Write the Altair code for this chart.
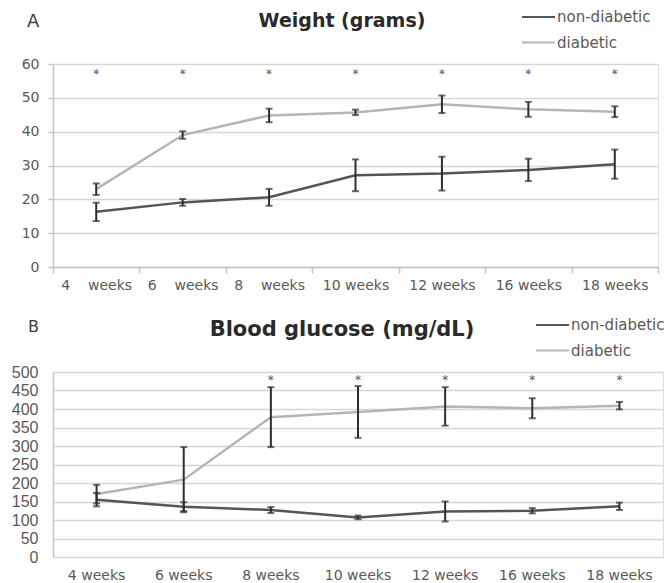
import altair as alt
import pandas as pd

# ---------------- data ----------------
weeks = ["4 weeks", "6 weeks", "8 weeks", "10 weeks", "12 weeks", "16 weeks", "18 weeks"]
series_names = ["non-diabetic", "diabetic"]

weight_nondiabetic = [16.3, 19.1, 20.6, 27.1, 27.6, 28.7, 30.4]
weight_nondiabetic_err = [2.7, 1.0, 2.5, 4.7, 5.0, 3.3, 4.3]
weight_diabetic = [23.0, 39.0, 44.8, 45.7, 48.1, 46.6, 45.9]
weight_diabetic_err = [1.7, 1.1, 2.0, 0.8, 2.6, 2.2, 1.6]
weight_ticks = [0, 10, 20, 30, 40, 50, 60]
weight_sig_weeks = ["4 weeks", "6 weeks", "8 weeks", "10 weeks", "12 weeks", "16 weeks", "18 weeks"]
weight_sig_level = 58

glucose_nondiabetic = [155, 136, 127, 107, 123, 125, 137]
glucose_nondiabetic_err = [18, 12, 8, 5, 27, 7, 10]
glucose_diabetic = [170, 209, 378, 392, 407, 402, 409]
glucose_diabetic_err = [25, 88, 81, 70, 52, 27, 10]
glucose_ticks = [0, 50, 100, 150, 200, 250, 300, 350, 400, 450, 500]
glucose_sig_weeks = ["8 weeks", "10 weeks", "12 weeks", "16 weeks", "18 weeks"]
glucose_sig_level = 487

title_a = "Weight (grams)"
title_b = "Blood glucose (mg/dL)"
letter_a = "A"
letter_b = "B"

# ---------------- styles ----------------
FONT = "DejaVu Sans"
TEXT = "#595959"
GRID = "#d6d6d6"
DOMAIN = "#c4c4c4"
ERR = "#2e2e2e"
series_colors = ["#555555", "#b5b5b5"]
color_of = dict(zip(series_names, series_colors))


def make_df(nd, nd_err, d, d_err):
    rows = []
    for name, vals, errs in (("diabetic", d, d_err), ("non-diabetic", nd, nd_err)):
        for i, (w, v, e) in enumerate(zip(weeks, vals, errs)):
            rows.append({"week": w, "idx": i, "series": name, "value": v,
                         "lo": v - e, "hi": v + e})
    return pd.DataFrame(rows)


def panel(df, sig_weeks, sig_level, ticks, width, height, title, letter,
          xaxis, yaxis, title_font, title_size, title_dx, title_dy,
          letter_dx, letter_dy, letter_size, legend_x, legend_y):
    xs = alt.Scale(type="band", paddingInner=0, paddingOuter=0)
    ys = alt.Scale(domain=[ticks[0], ticks[-1]], nice=False, zero=True)
    X = alt.X("week:N", sort=weeks, scale=xs, axis=xaxis)

    def Y(field):
        return alt.Y(field, scale=ys, axis=yaxis)

    base = alt.Chart(df)
    line = base.mark_line(strokeWidth=2.5).encode(
        x=X,
        y=Y("value:Q"),
        color=alt.Color("series:N", scale=alt.Scale(domain=series_names, range=series_colors), legend=None),
        order=alt.Order("idx:Q"),
    )
    rules = base.mark_rule(color=ERR, strokeWidth=2).encode(x=X, y=Y("lo:Q"), y2="hi:Q")
    cap_lo = base.mark_tick(color=ERR, thickness=2, size=7, orient="horizontal").encode(x=X, y=Y("lo:Q"))
    cap_hi = base.mark_tick(color=ERR, thickness=2, size=7, orient="horizontal").encode(x=X, y=Y("hi:Q"))
    stars_df = pd.DataFrame({"week": sig_weeks, "level": [sig_level] * len(sig_weeks),
                             "mark": ["*"] * len(sig_weeks)})
    stars = alt.Chart(stars_df).mark_text(font=FONT, fontSize=12, color="#555555", baseline="middle", dy=3).encode(
        x=X, y=Y("level:Q"), text="mark:N")
    ttl = alt.Chart(pd.DataFrame({"t": [title]})).mark_text(
        font=title_font, fontSize=title_size, fontWeight="bold", color="#2a2a2a",
        align="center", baseline="alphabetic").encode(
        x=alt.value(title_dx), y=alt.value(title_dy), text="t:N")
    let = alt.Chart(pd.DataFrame({"t": [letter]})).mark_text(
        font=FONT, fontSize=letter_size, color="#404040", align="left", baseline="alphabetic").encode(
        x=alt.value(letter_dx), y=alt.value(letter_dy), text="t:N")
    layers = [line, rules, cap_lo, cap_hi, stars, ttl, let]
    for i, name in enumerate(series_names):
        ldf = pd.DataFrame({"series": [name]})
        yy = legend_y + 25.5 * i
        layers.append(alt.Chart(ldf).mark_rule(color=color_of[name], strokeWidth=2).encode(
            x=alt.value(legend_x), x2=alt.value(legend_x + 33), y=alt.value(yy)))
        layers.append(alt.Chart(ldf).mark_text(font=FONT, fontSize=15, color=TEXT, align="left",
                                               baseline="middle").encode(
            x=alt.value(legend_x + 35), y=alt.value(yy), text="series:N"))
    return alt.layer(*layers).properties(width=width, height=height)


df_w = make_df(weight_nondiabetic, weight_nondiabetic_err, weight_diabetic, weight_diabetic_err)
df_g = make_df(glucose_nondiabetic, glucose_nondiabetic_err, glucose_diabetic, glucose_diabetic_err)

xaxis_a = alt.Axis(title=None, labelAngle=0, tickBand="extent", domainColor=DOMAIN, domainWidth=1.5,
                   tickColor=DOMAIN, tickWidth=1.5, tickSize=6, labelPadding=5, labelFont=FONT,
                   labelFontSize=14, labelColor=TEXT, labelOverlap=False,
                   labelExpr="length(datum.label) < 8 ? replace(datum.label, ' ', '\u00a0\u00a0\u00a0\u00a0') : datum.label")
yaxis_a = alt.Axis(title=None, values=weight_ticks, grid=True, gridColor=GRID, gridWidth=1.5,
                   domainColor=DOMAIN, domainWidth=1.5, tickColor=DOMAIN, tickWidth=1.5, tickSize=5,
                   labelPadding=9, labelFont=FONT, labelFontSize=14, labelColor=TEXT, labelOverlap=False)
xaxis_b = alt.Axis(title=None, labelAngle=0, domain=False, ticks=False, labelPadding=11,
                   labelFont=FONT, labelFontSize=14, labelColor=TEXT, labelOverlap=False)
yaxis_b = alt.Axis(title=None, values=glucose_ticks, grid=True, gridColor=GRID, gridWidth=1.5,
                   domainColor=DOMAIN, domainWidth=1.5, ticks=False, labelPadding=15,
                   labelFont="Liberation Sans", labelFontSize=16, labelColor=TEXT, labelOverlap=False)

panel_a = panel(df_w, weight_sig_weeks, weight_sig_level, weight_ticks, 605, 203, title_a, letter_a,
                xaxis_a, yaxis_a, FONT, 19, 289, -37, -26, -37, 18, 469, -47)
panel_b = panel(df_g, glucose_sig_weeks, glucose_sig_level, glucose_ticks, 610, 185, title_b, letter_b,
                xaxis_b, yaxis_b, FONT, 21, 289, -36, -25, -40, 16, 483, -47)

chart = alt.vconcat(panel_a, panel_b, spacing=24).properties(
    padding={"left": 10, "top": 9, "right": 0, "bottom": 0}
).configure_view(stroke=None).configure(background="white")

chart.save("out.html", embed_options={"renderer": "svg", "actions": False})
